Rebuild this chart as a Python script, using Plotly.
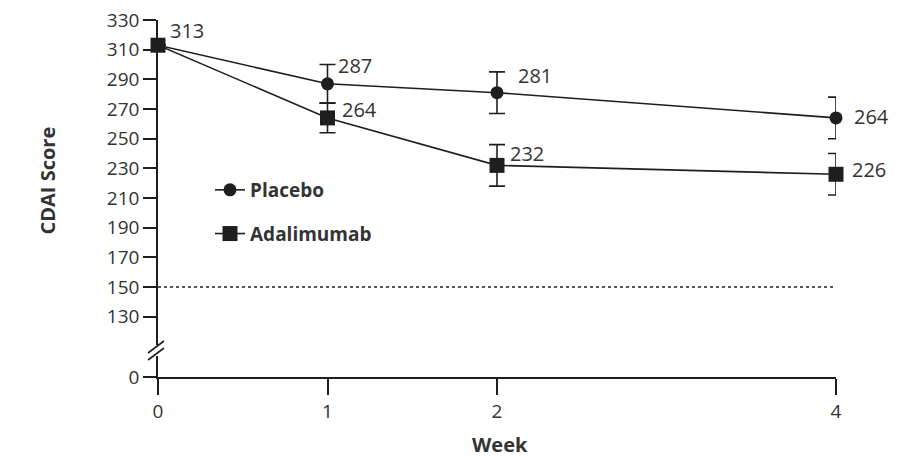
import plotly.graph_objects as go

weeks = [0, 1, 2, 4]
placebo = [313, 287, 281, 264]
adalimumab = [313, 264, 232, 226]
placebo_err = [None, 13, 14, 14]
adalimumab_err = [None, 10, 14, 14]
y_ticks = [130, 150, 170, 190, 210, 230, 250, 270, 290, 310, 330]
x_ticks = [0, 1, 2, 4]
remission_line = 150

# label pixel offsets (style only)
placebo_lbl_off = [(10, 15), (8, 18), (19, 17), (16, 1)]
adal_lbl_off = [None, (12, 8), (11, 12), (14, 5)]

# page is drawn with the browser's default 8px body margin
OFF = 8
W, H = 909 - OFF, 458 - OFF
L, R, T, B = 158, 836, 20, 377  # target plot area in page pixels
PW, PH = R - L, B - T


def px(xp):
    return (xp - L) / PW


def py(yp):
    return (B - yp) / PH


INK = "#1e1e1e"
TXT = "#333333"
FONT = "Open Sans"

main_bottom = 345
low_top = 356
px_per_unit = (316.7 - 20) / 200.0
main_min = 330 - (main_bottom - T) / px_per_unit
low_max = (B - low_top) / px_per_unit

fig = go.Figure()
fig.add_trace(go.Scatter(
    x=weeks, y=placebo, name="<b>Placebo</b>", mode="lines+markers",
    line=dict(color=INK, width=1.6),
    marker=dict(symbol="circle", size=13, color=INK),
    error_y=dict(type="data", array=placebo_err, visible=True, color=INK,
                 thickness=1.6, width=8),
    legendgroup="p", cliponaxis=False,
))
fig.add_trace(go.Scatter(
    x=weeks, y=adalimumab, name="<b>Adalimumab</b>", mode="lines+markers",
    line=dict(color=INK, width=1.6),
    marker=dict(symbol="square", size=15, color=INK),
    error_y=dict(type="data", array=adalimumab_err, visible=True, color=INK,
                 thickness=1.6, width=8),
    legendgroup="a", cliponaxis=False,
))
# registers the lower (broken) axis segment so it gets drawn
fig.add_trace(go.Scatter(x=[None], y=[None], yaxis="y2", showlegend=False,
                         hoverinfo="skip", mode="markers"))

annotations = []
for i, (w, v) in enumerate(zip(weeks, placebo)):
    dx, dy = placebo_lbl_off[i]
    annotations.append(dict(x=w, y=v, xref="x", yref="y", text=str(v),
                            showarrow=False, xanchor="left", yanchor="middle",
                            xshift=dx, yshift=dy,
                            font=dict(family=FONT, size=20, color=TXT)))
for i, (w, v) in enumerate(zip(weeks, adalimumab)):
    if adal_lbl_off[i] is None:
        continue
    dx, dy = adal_lbl_off[i]
    annotations.append(dict(x=w, y=v, xref="x", yref="y", text=str(v),
                            showarrow=False, xanchor="left", yanchor="middle",
                            xshift=dx, yshift=dy,
                            font=dict(family=FONT, size=20, color=TXT)))

annotations.append(dict(x=px(47), y=py(180.5), xref="paper", yref="paper",
                        text="<b>CDAI Score</b>", textangle=-90, showarrow=False,
                        xanchor="center", yanchor="middle",
                        font=dict(family=FONT, size=20, color=TXT)))
annotations.append(dict(x=px(500), y=py(444), xref="paper", yref="paper",
                        text="<b>Week</b>", showarrow=False,
                        xanchor="center", yanchor="middle",
                        font=dict(family=FONT, size=20, color=TXT)))

shapes = [
    dict(type="line", xref="x", yref="y", x0=0, x1=4,
         y0=remission_line, y1=remission_line,
         line=dict(color=INK, width=1.6, dash="dot")),
    dict(type="line", xref="paper", yref="paper",
         x0=px(148), y0=py(353), x1=px(164), y1=py(341),
         line=dict(color=INK, width=1.6)),
    dict(type="line", xref="paper", yref="paper",
         x0=px(148), y0=py(360), x1=px(164), y1=py(348),
         line=dict(color=INK, width=1.6)),
]

fig.update_layout(
    width=W, height=H,
    margin=dict(l=L - OFF, r=909 - R, t=T - OFF, b=458 - B, autoexpand=False),
    paper_bgcolor="white", plot_bgcolor="white",
    font=dict(family=FONT, color=TXT),
    showlegend=True,
    legend=dict(x=px(210), y=py(171), xanchor="left", yanchor="top",
                bgcolor="rgba(0,0,0,0)", tracegroupgap=16,
                font=dict(family=FONT, size=19, color=TXT),
                itemwidth=30),
    xaxis=dict(range=[0, 4], tickvals=x_ticks, ticktext=[str(t) for t in x_ticks],
               anchor="y2", showline=True, linecolor=INK, linewidth=1.6,
               ticks="outside", ticklen=16, tickwidth=1.6, tickcolor=INK,
               showgrid=False, zeroline=False, ticklabeloverflow="allow",
               tickfont=dict(family=FONT, size=19, color=TXT)),
    yaxis=dict(domain=[py(main_bottom), 1], range=[main_min, 330],
               tickvals=y_ticks, anchor="x", showline=True, linecolor=INK,
               linewidth=1.6, ticks="outside", ticklen=13, tickwidth=1.6,
               tickcolor=INK, showgrid=False, zeroline=False,
               ticklabeloverflow="allow",
               tickfont=dict(family=FONT, size=19, color=TXT)),
    yaxis2=dict(domain=[0, py(low_top)], range=[0, low_max], tickvals=[0],
                anchor="x", showline=True, linecolor=INK, linewidth=1.6,
                ticks="outside", ticklen=13, tickwidth=1.6, tickcolor=INK,
                showgrid=False, zeroline=False, ticklabeloverflow="allow",
                tickfont=dict(family=FONT, size=19, color=TXT)),
    annotations=annotations,
    shapes=shapes,
)

fig.write_html("out.html")
